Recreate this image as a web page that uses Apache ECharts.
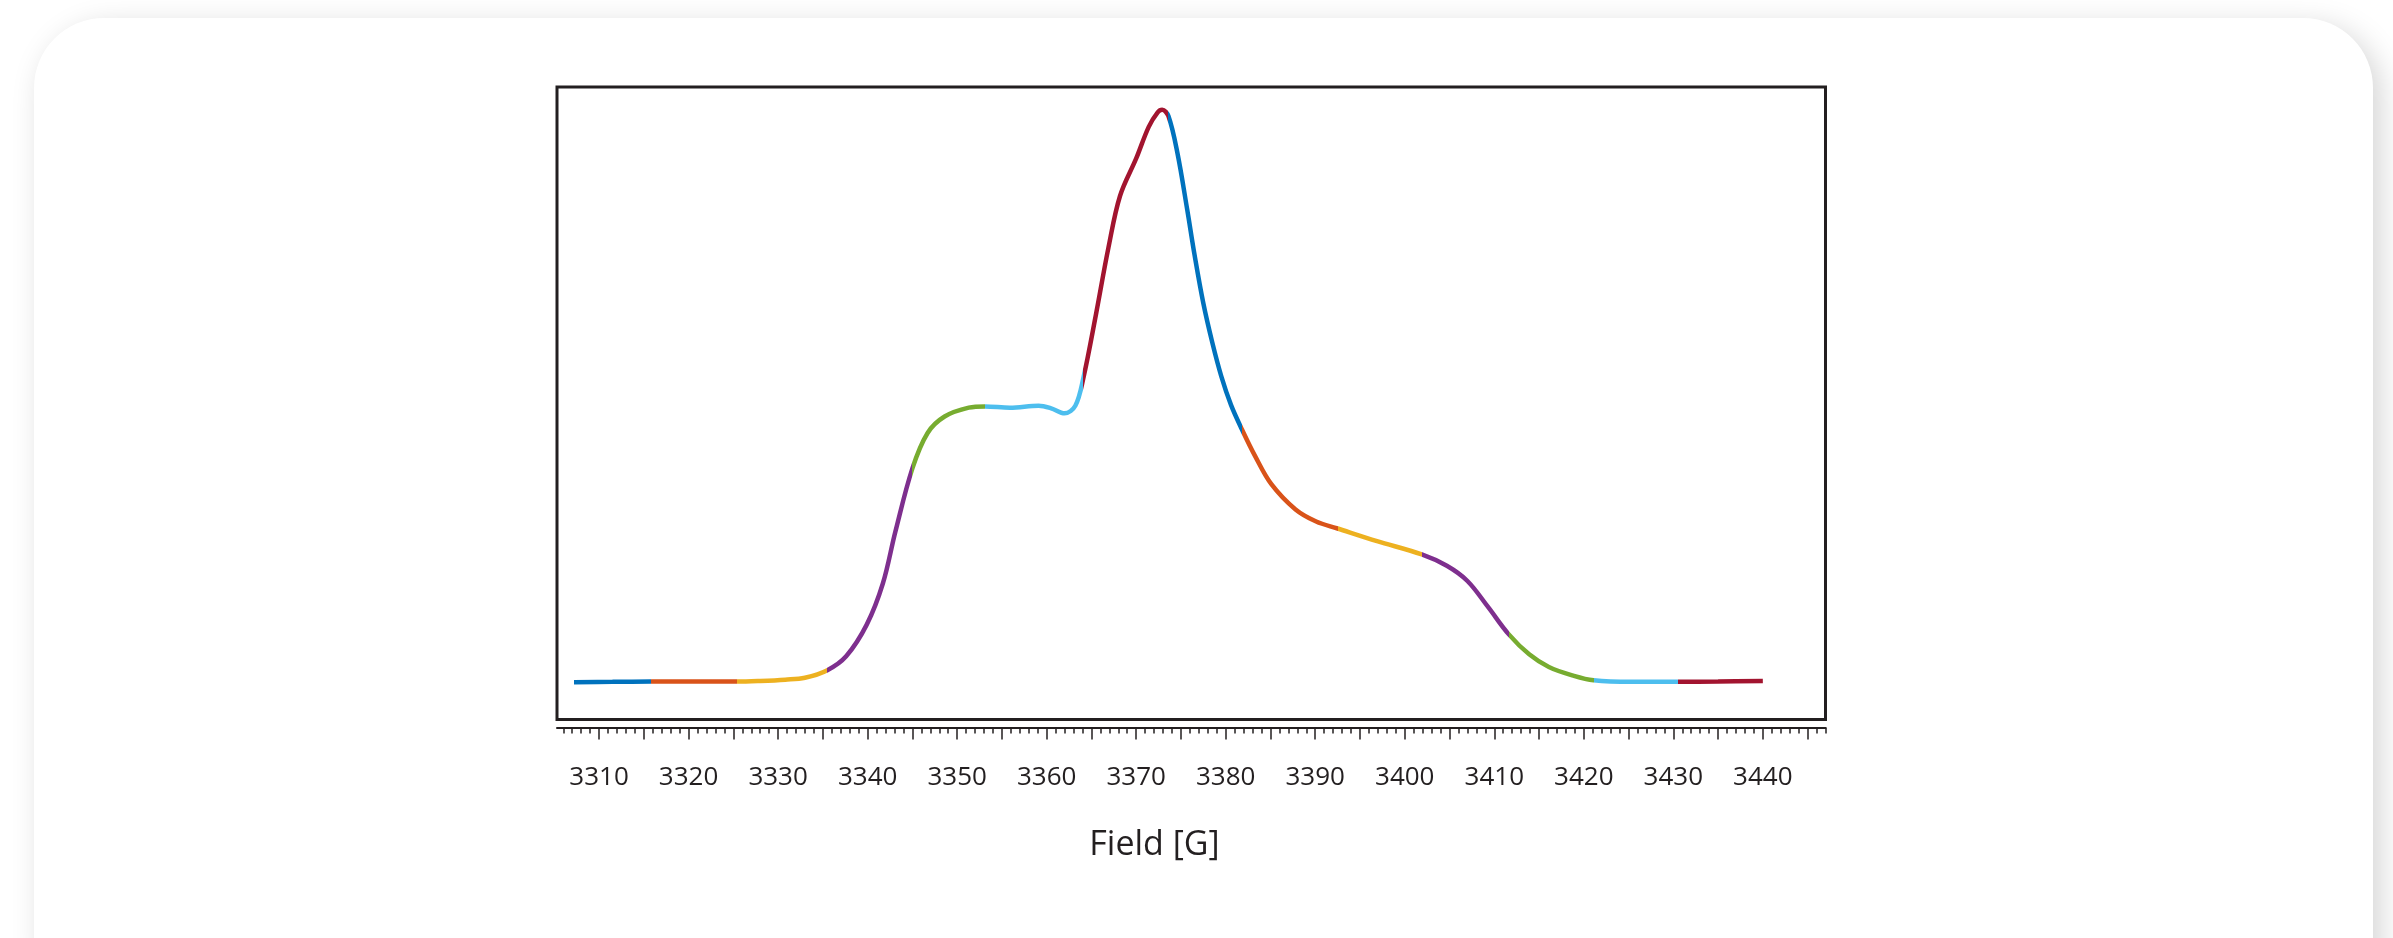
<!DOCTYPE html>
<html>
<head>
<meta charset="utf-8">
<title>Field spectrum</title>
<script src="https://cdn.jsdelivr.net/npm/echarts@6/dist/echarts.min.js"></script>
<style>
html, body { margin: 0; padding: 0; background: #fff; width: 2393px; height: 938px; overflow: hidden; }
#card {
    position: absolute; left: 34px; top: 18px; width: 2339px; height: 990px;
    border-radius: 70px; background: #fff;
    box-shadow: 8px 8px 30px rgba(0, 0, 0, 0.17);
}
#container { position: absolute; left: 0; top: 0; width: 2393px; height: 938px; }
</style>
</head>
<body>
<div id="card"></div>
<div id="container"></div>
<script>
// field values [G]
var field = [
    3307.2, 3311.5, 3315.8, 3320.5, 3325.4, 3328.0, 3330.8, 3333.0, 3335.5,
    3337.6, 3339.9, 3341.7, 3343.1, 3345.0, 3346.7, 3348.6, 3351.3, 3353.1,
    3355.9, 3359.1, 3360.5, 3362.0, 3363.2, 3364.1, 3365.5, 3366.9, 3368.2,
    3370.0, 3371.4, 3372.4, 3372.9, 3373.6, 3374.6, 3375.7, 3376.5, 3377.5,
    3378.5, 3379.5, 3380.6, 3381.8, 3383.3, 3385.1, 3387.8, 3390.1, 3392.5,
    3396.9, 3401.9, 3404.7, 3407.0, 3409.3, 3411.6, 3413.9, 3416.1, 3418.9,
    3421.1, 3425.3, 3430.5, 3435.0, 3440.0
];
var signal = [
    5.9, 5.95, 6.0, 6.0, 6.0, 6.1, 6.3, 6.6, 7.8,
    10.0, 15.0, 21.5, 29.7, 39.7, 45.3, 47.9, 49.3, 49.5,
    49.3, 49.6, 49.2, 48.4, 49.6, 54.0, 64.0, 74.6, 82.8,
    88.7, 93.7, 96.0, 96.4, 95.4, 89.6, 80.6, 73.6, 65.8,
    59.6, 54.3, 49.7, 45.9, 41.6, 37.2, 33.2, 31.3, 30.2,
    28.2, 26.1, 24.3, 21.9, 17.8, 13.5, 10.3, 8.3, 6.9,
    6.2, 5.95, 5.95, 6.0, 6.1
];
// where the trace changes colour
var segmentBreaks = [3307.2, 3315.8, 3325.4, 3335.5, 3345.0, 3353.1, 3364.1,
    3373.6, 3381.8, 3392.5, 3401.9, 3411.6, 3421.1, 3430.5, 3440.0];
var segmentColors = ['#0072BD', '#D95319', '#EDB120', '#7E2F8E', '#77AC30', '#4DBEEE', '#A2142F',
    '#0072BD', '#D95319', '#EDB120', '#7E2F8E', '#77AC30', '#4DBEEE', '#A2142F'];
var fieldLabels = [3310, 3320, 3330, 3340, 3350, 3360, 3370, 3380, 3390, 3400, 3410, 3420, 3430, 3440];

var ink = '#231f20';
var majorTicks = [], minorTicks = [];
for (var v = 3306; v <= 3447; v++) {
    minorTicks.push(v);
    if (v % 5 === 0) majorTicks.push(v);
}

var pieces = [];
for (var k = 0; k < segmentColors.length; k++) {
    pieces.push({gte: segmentBreaks[k], lt: segmentBreaks[k + 1], color: segmentColors[k]});
}
pieces[pieces.length - 1].lte = segmentBreaks[segmentBreaks.length - 1];
delete pieces[pieces.length - 1].lt;

var trace = field.map(function (f, i) { return [f, signal[i]]; });

var dom = document.getElementById('container');
var myChart = echarts.init(dom, null, {renderer: 'canvas'});
var option = {
    animation: false,
    textStyle: {fontFamily: 'Open Sans'},
    grid: {
        left: 557, top: 87, width: 1268.5, height: 632.5,
        show: true, borderColor: ink, borderWidth: 3, backgroundColor: 'transparent'
    },
    xAxis: [{
        type: 'value', min: 3305.3, max: 3447.0, position: 'bottom', offset: 8,
        splitLine: {show: false},
        axisLine: {show: true, onZero: false, lineStyle: {color: ink, width: 2}},
        axisTick: {show: true, customValues: majorTicks, length: 12, lineStyle: {color: ink, width: 1.5}},
        axisLabel: {
            customValues: fieldLabels, margin: 37, fontSize: 26, color: ink, fontFamily: 'Open Sans',
            formatter: function (val) { return String(val); }
        }
    }, {
        type: 'value', min: 3305.3, max: 3447.0, position: 'bottom', offset: 8,
        splitLine: {show: false},
        axisLine: {show: false, onZero: false},
        axisTick: {show: true, customValues: minorTicks, length: 6, lineStyle: {color: ink, width: 1.5}},
        axisLabel: {show: false}
    }],
    yAxis: {type: 'value', min: 0, max: 100, show: false},
    visualMap: {
        show: false, type: 'piecewise', dimension: 0, seriesIndex: 0,
        pieces: pieces
    },
    graphic: [{
        type: 'text', x: 1154.5, y: 845,
        style: {text: 'Field [G]', fill: ink, font: '34px "Open Sans"', textAlign: 'center', textVerticalAlign: 'middle'}
    }],
    series: [{
        type: 'line',
        data: trace,
        showSymbol: false,
        smooth: 0.35,
        lineStyle: {width: 4.5, cap: 'butt'}
    }]
};
myChart.setOption(option, true);
</script>
</body>
</html>
